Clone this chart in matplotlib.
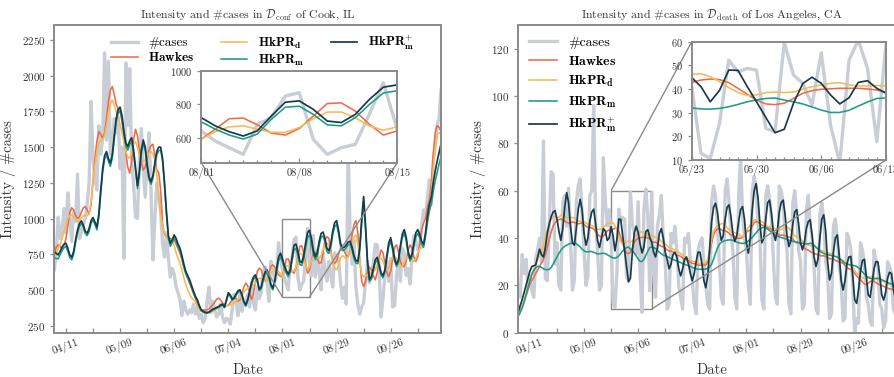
import numpy as np
import pandas as pd
import matplotlib
matplotlib.use('Agg')
import matplotlib.pyplot as plt
import matplotlib.dates as mdates
from mpl_toolkits.axes_grid1.inset_locator import mark_inset

plt.rcParams.update({
    'font.family': ['cmr10', 'DejaVu Serif'],
    'mathtext.fontset': 'cm',
    'axes.formatter.use_mathtext': True,
    'axes.unicode_minus': False,
})

# ---------------- data ----------------
start_date = '2020-04-05'
n_days = 201
dates = pd.date_range(start_date, periods=n_days, freq='D')

labels = [r'#cases', r'$\mathbf{Hawkes}$', r'$\mathbf{HkPR}_{\mathbf{d}}$',
          r'$\mathbf{HkPR}_{\mathbf{m}}$', r'$\mathbf{HkPR}^{+}_{\mathbf{m}}$']

# Cook, IL (confirmed)
cook_cases = [
    640, 760, 1010, 860, 920, 1070, 900, 1180, 1000, 840,
    1050, 980, 1310, 860, 900, 960, 1000, 1100, 1250, 1820,
    1420, 1280, 1200, 1650, 1450, 1560, 2160, 1550, 2100, 1450,
    1520, 1700, 1600, 1710, 1350, 1500, 720, 2090, 1650, 2050,
    1400, 1240, 1010, 1000, 1420, 1630, 1350, 1150, 1400, 1600,
    1200, 710, 1000, 1250, 1150, 1050, 820, 730, 900, 720,
    590, 650, 610, 520, 480, 430, 320, 420, 360, 330,
    360, 340, 400, 330, 380, 300, 330, 270, 300, 420,
    520, 340, 420, 360, 310, 330, 400, 310, 270, 300,
    290, 260, 360, 470, 420, 320, 480, 350, 430, 390,
    470, 380, 550, 410, 360, 520, 440, 480, 630, 660,
    560, 420, 700, 650, 560, 620, 830, 720, 640, 580,
    540, 500, 680, 720, 850, 870, 590, 500, 540, 560,
    740, 930, 650, 600, 880, 590, 780, 620, 500, 760,
    640, 560, 700, 600, 520, 760, 710, 720, 560, 440,
    520, 400, 1480, 900, 680, 850, 520, 400, 330, 380,
    410, 560, 700, 550, 600, 690, 820, 815, 650, 310,
    440, 600, 700, 560, 720, 380, 390, 600, 700, 560,
    790, 760, 600, 650, 540, 720, 880, 850, 780, 800,
    950, 1060, 1000, 1150, 1270, 1100, 1400, 1500, 1650, 1700,
    1900]
cook_hawkes = [
    760, 800, 815, 805, 790, 810, 860, 950, 1040, 1075,
    1060, 1020, 1000, 1010, 1045, 1075, 1084, 1060, 1030, 1100,
    1260, 1420, 1540, 1608, 1590, 1560, 1600, 1700, 1820, 1900,
    1924, 1870, 1800, 1770, 1750, 1680, 1585, 1460, 1360, 1317,
    1400, 1550, 1625, 1580, 1480, 1390, 1340, 1360, 1420, 1480,
    1510, 1520, 1440, 1340, 1320, 1200, 960, 890, 875, 865,
    860, 855, 850, 820, 790, 757, 710, 660, 617, 580,
    545, 510, 477, 440, 405, 372, 362, 358, 358, 360,
    368, 380, 395, 415, 435, 442, 430, 410, 395, 388,
    392, 410, 430, 448, 440, 420, 430, 470, 520, 547,
    530, 480, 432, 470, 560, 630, 652, 640, 600, 560,
    570, 620, 665, 675, 660, 630, 605, 595, 592, 651,
    714, 718, 677, 628, 616, 655, 730, 805, 809, 760,
    681, 616, 641, 700, 760, 765, 720, 687, 690, 760,
    850, 873, 860, 780, 700, 687, 700, 750, 790, 792,
    770, 740, 733, 780, 880, 960, 985, 900, 720, 560,
    523, 560, 630, 660, 640, 600, 570, 620, 720, 780,
    760, 690, 620, 593, 630, 720, 800, 815, 770, 700,
    665, 663, 700, 780, 815, 790, 730, 700, 730, 820,
    920, 967, 1000, 1080, 1130, 1250, 1450, 1600, 1650, 1640,
    1610]
cook_hkpr_d = [
    720, 760, 790, 820, 860, 910, 955, 1000, 1020, 1025,
    1010, 990, 978, 985, 1000, 1020, 1025, 1020, 1030, 1120,
    1260, 1375, 1470, 1530, 1545, 1550, 1580, 1650, 1740, 1800,
    1830, 1790, 1749, 1700, 1660, 1600, 1539, 1470, 1430, 1422,
    1460, 1520, 1539, 1500, 1440, 1410, 1399, 1410, 1440, 1460,
    1469, 1450, 1410, 1300, 1150, 1020, 950, 900, 880, 860,
    845, 839, 810, 760, 722, 687, 640, 585, 535, 500,
    470, 445, 430, 410, 385, 362, 350, 343, 341, 341,
    343, 346, 348, 355, 365, 380, 392, 395, 392, 388,
    390, 395, 400, 410, 420, 432, 442, 460, 485, 500,
    510, 520, 530, 535, 550, 570, 582, 578, 565, 560,
    575, 600, 620, 628, 640, 640, 630, 610, 592, 636,
    665, 671, 651, 632, 632, 661, 714, 754, 754, 720,
    671, 645, 665, 700, 735, 740, 725, 722, 740, 785,
    820, 827, 815, 760, 690, 650, 640, 670, 720, 740,
    730, 720, 730, 770, 830, 870, 885, 820, 700, 610,
    593, 598, 605, 615, 625, 628, 640, 680, 715, 722,
    700, 665, 640, 655, 700, 730, 733, 720, 690, 665,
    665, 690, 725, 733, 725, 710, 700, 720, 760, 790,
    792, 810, 880, 967, 1050, 1180, 1350, 1500, 1580, 1600,
    1600]
cook_hkpr_m = [
    724, 720, 718, 745, 775, 795, 805, 770, 725, 710,
    750, 830, 900, 945, 965, 940, 895, 880, 910, 965,
    990, 960, 920, 1005, 1170, 1320, 1415, 1445, 1400, 1365,
    1425, 1555, 1675, 1740, 1755, 1700, 1590, 1505, 1480, 1520,
    1540, 1455, 1335, 1210, 1305, 1455, 1525, 1480, 1360, 1270,
    1240, 1280, 1370, 1445, 1475, 1480, 1400, 1230, 1030, 860,
    805, 830, 865, 840, 800, 772, 722, 662, 612, 584,
    555, 516, 478, 445, 420, 382, 354, 345, 338, 337,
    341, 350, 360, 365, 372, 377, 388, 393, 375, 420,
    468, 455, 428, 437, 460, 484, 490, 462, 413, 388,
    420, 478, 535, 575, 590, 557, 495, 508, 565, 608,
    622, 585, 528, 500, 545, 630, 705, 730, 695, 651,
    616, 592, 622, 710, 783, 789, 740, 677, 671, 720,
    799, 868, 882, 830, 752, 712, 738, 815, 868, 878,
    835, 768, 755, 798, 885, 942, 958, 895, 808, 775,
    780, 795, 815, 820, 780, 722, 688, 683, 775, 965,
    1110, 915, 680, 560, 575, 632, 690, 708, 662, 604,
    585, 624, 720, 806, 840, 778, 702, 663, 692, 788,
    865, 895, 845, 750, 702, 730, 806, 873, 895, 865,
    818, 798, 870, 980, 1055, 1100, 1190, 1260, 1320, 1380,
    1430]
cook_hkpr_mp = [
    768, 755, 745, 770, 800, 820, 827, 790, 745, 729,
    770, 850, 920, 965, 983, 955, 910, 897, 930, 985,
    1007, 975, 939, 1030, 1200, 1350, 1440, 1469, 1420, 1389,
    1450, 1580, 1700, 1765, 1780, 1720, 1610, 1530, 1503, 1545,
    1565, 1480, 1360, 1230, 1330, 1480, 1550, 1500, 1380, 1290,
    1258, 1300, 1390, 1470, 1500, 1500, 1420, 1250, 1050, 880,
    827, 850, 885, 860, 820, 792, 740, 680, 630, 600,
    570, 530, 490, 455, 430, 390, 360, 350, 343, 341,
    345, 355, 365, 370, 378, 383, 395, 400, 380, 430,
    480, 465, 435, 445, 470, 495, 500, 470, 420, 395,
    430, 490, 550, 590, 605, 570, 505, 520, 580, 625,
    640, 600, 540, 512, 560, 650, 730, 757, 720, 671,
    636, 610, 641, 730, 813, 821, 770, 700, 691, 740,
    829, 903, 917, 860, 775, 733, 760, 840, 895, 905,
    860, 790, 775, 820, 910, 970, 985, 920, 830, 795,
    800, 815, 835, 840, 800, 740, 705, 700, 800, 1000,
    1154, 950, 700, 575, 590, 650, 710, 728, 680, 620,
    600, 640, 740, 830, 865, 800, 720, 680, 710, 810,
    890, 922, 870, 770, 720, 750, 830, 900, 922, 890,
    840, 820, 900, 1020, 1100, 1150, 1250, 1330, 1400, 1460,
    1520]

# Los Angeles, CA (death)
la_cases = [
    20, 15, 33, 25, 31, 19, 24,
    18, 15, 31, 35, 40, 30, 81,
    23, 22, 45, 68, 67, 29, 38,
    20, 18, 55, 58, 45, 61, 40,
    18, 22, 55, 62, 65, 50, 35,
    20, 24, 58, 60, 96, 45, 35,
    18, 20, 74, 56, 45, 52, 41,
    12.8, 10.7, 25.5, 52.2, 47.3, 48.7, 48,
    23.4, 22, 59.6, 45.9, 42.4, 33.2, 55.3,
    24.8, 8.6, 52.2, 60.7, 48.7, 17.7, 59.3,
    25, 15, 45, 50, 58, 40, 30,
    10, 12, 42, 38, 45, 35, 20,
    15, 10, 40, 38, 42, 30, 22,
    12, 8, 35, 38, 40, 30, 20,
    12, 10, 55, 62, 58, 45, 30,
    15, 12, 60, 65, 55, 42, 35,
    15, 10, 58, 74, 50, 40, 35,
    20, 12, 60, 66, 62, 45, 40,
    14, 10, 58, 62, 56, 48, 30,
    15, 12, 62, 60, 55, 40, 35,
    12, 8, 55, 60, 50, 35, 30,
    10, 12, 52, 58, 45, 40, 28,
    10, 8, 50, 55, 48, 30, 25,
    6, 8, 45, 48, 40, 28, 22,
    5, 6, 42, 40, 35, 20, 0,
    6, 4, 38, 35, 30, 15, 12,
    5, 3, 35, 30, 28, 12, 10,
    2, 5, 30, 28, 25, 10, 8,
    6, 4, 28, 26, 22]
la_hawkes = [
    8, 9.5, 11, 13, 15.5, 18, 20.5, 22, 23.5, 25,
    26.5, 28, 29.5, 31, 33, 36, 39.5, 42.5, 45, 46.5,
    47.3, 47.8, 48, 47.8, 47.2, 46.6, 46.3, 46.5, 46.8, 46.6,
    46.2, 46, 46.2, 46.3, 45.8, 45, 44.5, 44.4, 44.3, 43.8,
    42.8, 41.6, 40.8, 40.5, 40.8, 41.8, 43, 43.5, 42.8, 43.8,
    44.2, 44, 42.7, 40.3, 37.8, 35.3, 33.7, 33.4, 34, 36,
    38.2, 39.3, 39.9, 40.1, 40.3, 40.3, 40.3, 40, 39.6, 38.6,
    38.2, 38.3, 37.8, 37, 36.5, 36.3, 35.8, 35, 34.5, 34.5,
    34.2, 33.5, 32.8, 32.6, 32.3, 31.6, 31, 30.8, 30.5, 29.8,
    29.3, 29.2, 29, 28.6, 28.5, 28.6, 28.6, 28.6, 30, 33.6,
    38, 41.3, 43, 43.8, 44.1, 43.5, 43, 43, 42.7, 42,
    41.3, 41, 40.6, 40, 39.9, 39.9, 40.3, 41.3, 42.5, 43,
    43.4, 45, 46.5, 47, 46.8, 46, 45.5, 45.2, 44.8, 44.3,
    44.1, 43.6, 42.8, 42.3, 41.8, 41.3, 41.2, 41.3, 40.9, 40.5,
    40.4, 40.2, 39.4, 38.6, 38, 37.8, 37.4, 36.6, 35.8, 35.2,
    34.9, 34.3, 33.8, 33.5, 33.2, 32.9, 32.6, 32.5, 32.5, 32.3,
    31.8, 31.3, 31.2, 31, 30.6, 30.2, 29.9, 29.7, 29.3, 28.5,
    27.5, 27, 26.8, 26.2, 25.1, 24, 23.2, 22.5, 21.5, 20.6,
    20.3, 20.8, 21.6, 22, 21.8, 21.2, 20.6, 20.3, 20, 19.6,
    19.2, 18.8, 18.6, 18.4, 18, 17.7, 17.4, 17.1, 16.8, 16.5,
    16.2]
la_hkpr_d = [
    7.5, 9, 11, 13.5, 16.5, 20, 22.5, 25, 27, 29,
    31, 32.8, 34.3, 37, 40.5, 43.5, 46, 48, 49, 49.1,
    48.6, 48.8, 49.6, 50, 49.5, 48.8, 48.5, 48.6, 48.7, 48.4,
    47.8, 47.2, 47, 47.2, 47, 46.4, 45.8, 45.5, 45.3, 44.9,
    44.3, 43.8, 43.6, 43.8, 44.4, 45.3, 46, 46.3, 46.2, 46.5,
    45.2, 43.1, 40.6, 38.5, 37.3, 37.5, 38.5, 38.7, 38.5, 38.7,
    39.9, 41, 41.7, 42.4, 42.7, 41.8, 41.3, 41.3, 41.5, 41.3,
    40.8, 40.3, 40.2, 39.5, 38.5, 37.8, 37.5, 36.8, 36, 35.6,
    35.4, 35, 34.5, 34, 33.4, 32.8, 32.2, 31.6, 31.2, 30.8,
    30.3, 30, 29.8, 29.5, 29.3, 29.2, 29.3, 29.6, 31, 35,
    39.5, 42.7, 44.3, 45.2, 45.6, 46, 46.2, 45.4, 44.3, 43.5,
    43, 42.6, 42.2, 42, 41.6, 41, 40.6, 41.2, 42.8, 44.5,
    45.5, 46.8, 47.6, 47.7, 47.4, 47.1, 47, 46.3, 45.6, 45,
    44.8, 44.7, 44.3, 43.8, 43.5, 43.4, 43.6, 44, 44.4, 44.6,
    44.2, 43.1, 41.9, 41, 40.6, 40.3, 39.7, 38.8, 38, 37.4,
    37.1, 36.8, 36.5, 36.3, 35.9, 35.4, 35, 34.7, 34.4, 34,
    33.8, 33.6, 33.3, 32.8, 32.3, 31.8, 31.4, 31, 30.5, 29.9,
    29.3, 28.8, 28.4, 27.6, 26.3, 25.2, 24.4, 23.8, 23.3, 23,
    23, 23.2, 23.5, 23.7, 23.5, 22.9, 22.4, 22, 21.8, 21.6,
    21.2, 20.8, 20.4, 20.1, 19.8, 19.5, 19.2, 18.9, 18.6, 18.3,
    18]
la_hkpr_m = [
    7, 8.5, 10.5, 13, 16, 19, 22, 24.5, 26.3, 27.5,
    28, 28, 27.6, 27, 26.7, 26.6, 26.8, 27.5, 29, 30.5,
    32, 33.5, 34.8, 35.8, 36.5, 37, 37.4, 37.7, 37.8, 37.8,
    37.6, 37, 36.2, 35.3, 34.6, 34.2, 34.2, 34.3, 34.3, 34,
    33.6, 33.3, 33.3, 33.5, 33.6, 33.4, 33, 32.5, 32, 31.6,
    31.5, 31.8, 32.5, 33.5, 34.6, 35.4, 36, 36.2, 35.3, 34.6,
    33.7, 32.4, 31.1, 30.1, 30.1, 31, 32.8, 34.5, 36, 36.2,
    36, 35.5, 34.8, 34, 33.3, 32.8, 32.5, 32.2, 31.8, 31.4,
    31, 30.6, 30.3, 30, 29.6, 29.2, 28.9, 28.6, 28.3, 28,
    27.6, 27.3, 27, 26.8, 26.8, 26.8, 26.8, 26.9, 27.2, 27.8,
    29, 31, 33.5, 35.8, 37.3, 38.2, 38.6, 38.9, 39.1, 39.2,
    39.2, 39, 38.7, 38.3, 38, 37.8, 37.7, 37.8, 38.2, 38.8,
    39.5, 40.3, 41.2, 42.2, 43.2, 44, 44.4, 44.5, 44.3, 43.8,
    43.2, 42.5, 41.8, 41.2, 40.8, 40.5, 40.2, 40, 39.7, 39.4,
    39.1, 38.8, 38.6, 38.4, 38.3, 38.2, 38, 37.8, 37.6, 37.5,
    37.6, 37.8, 37.6, 37, 36.2, 35.3, 34.5, 33.9, 33.5, 33.2,
    33, 32.8, 32.6, 32.4, 32.2, 32, 31.5, 30.8, 30, 29.4,
    29, 28.8, 28.6, 28.5, 28.3, 28, 27.4, 26.6, 25.7, 24.8,
    24, 23.4, 23, 22.8, 22.8, 22.9, 23, 22.8, 22.4, 22,
    21.6, 21.2, 20.9, 20.6, 20.4, 20.2, 20, 19.8, 19.6, 19.4,
    19.2]
la_hkpr_mp = [
    8.9, 11.5, 14, 17, 20, 23, 26, 28, 28.3, 28.6,
    32, 35.3, 33, 32, 36, 42, 46, 49, 51, 51.6,
    48, 43, 39, 44, 53, 59.2, 55, 45, 38, 37,
    44, 52, 56.4, 52, 42, 37, 40, 47, 51, 52.2,
    46, 39, 36, 40, 44, 43, 39, 40, 44.8, 41,
    34.6, 39.4, 48, 47.9, 41, 34.6, 28, 21.5, 23, 34,
    42.3, 45, 42.4, 37.5, 33.7, 36.3, 42.8, 43.5, 40.3, 38.2,
    34, 32, 36, 42, 44, 40, 34, 31, 27, 29,
    33, 34, 32, 27, 24, 27, 31, 32, 29, 25,
    22, 25, 30, 34, 34, 29, 22, 19, 24, 36,
    47, 53, 54.7, 51, 44, 39, 41, 48, 53, 54,
    49, 42, 38.5, 41, 47, 52, 53.3, 48, 38, 33.6,
    40, 52, 60, 63, 57, 46, 38, 40, 48, 55,
    56, 50, 42, 39, 43, 51, 55, 56, 50, 41,
    36.4, 39, 46, 51, 52, 46, 38, 35, 38, 44,
    47, 47.7, 41, 32, 28, 31, 40, 48, 49.8, 43,
    30, 22.3, 25, 34, 40, 41.3, 33, 22, 18, 22,
    29, 32, 32.2, 24, 14, 12.4, 18, 26, 30.5, 31,
    24, 16, 15, 21, 27, 30, 30, 24, 16, 13.8,
    17, 23, 25.5, 25, 19, 14, 14, 18, 23, 24,
    22]

major_ticks = ['2020-04-11', '2020-05-09', '2020-06-06', '2020-07-04',
               '2020-08-01', '2020-08-29', '2020-09-26']
minor_ticks = ['2020-04-25', '2020-05-23', '2020-06-20', '2020-07-18',
               '2020-08-15', '2020-09-12', '2020-10-10']

cook_yticks = [250, 500, 750, 1000, 1250, 1500, 1750, 2000, 2250]
la_yticks = [0, 20, 40, 60, 80, 100, 120]

cook_zoom = ('2020-08-01', '2020-08-15')
cook_zoom_ticks = ['2020-08-01', '2020-08-08', '2020-08-15']
cook_zoom_yticks = [600, 800, 1000]
la_zoom = ('2020-05-23', '2020-06-13')
la_zoom_ticks = ['2020-05-23', '2020-05-30', '2020-06-06', '2020-06-13']
la_zoom_yticks = [10, 20, 30, 40, 50, 60]

# ---------------- style ----------------
C_CASES = '#c9ced6'
C_HAWKES = '#ef6a4a'
C_HKPRD = '#f2bb55'
C_HKPRM = '#1c9c86'
C_HKPRMP = '#183b4c'
SPINE = '#8a8a8a'
TXT = '#333333'

colors = [C_CASES, C_HAWKES, C_HKPRD, C_HKPRM, C_HKPRMP]
widths = [2.4, 1.15, 1.15, 1.15, 1.25]


def plot_all(ax, series):
    lines = []
    for s, c, w, lab in zip(series, colors, widths, labels):
        ln, = ax.plot(dates, s, color=c, lw=w, label=lab)
        lines.append(ln)
    return lines


def style_axes(ax, fs=8):
    for sp in ax.spines.values():
        sp.set_color(SPINE)
        sp.set_linewidth(1.4)
    ax.tick_params(axis='x', which='both', direction='in', length=3.5,
                   width=0.9, color=SPINE, labelsize=fs, labelcolor=TXT)
    ax.tick_params(axis='y', which='both', direction='out', length=3,
                   width=0.9, color=SPINE, labelsize=fs, labelcolor=TXT)
    ax.xaxis.set_major_formatter(mdates.DateFormatter('%m/%d'))


fig = plt.figure(figsize=(8.95, 3.77), dpi=100)
axL = fig.add_axes([0.0607, 0.1175, 0.432, 0.816])
axR = fig.add_axes([0.5791, 0.1175, 0.432, 0.816])

cook = [cook_cases, cook_hawkes, cook_hkpr_d, cook_hkpr_m, cook_hkpr_mp]
la = [la_cases, la_hawkes, la_hkpr_d, la_hkpr_m, la_hkpr_mp]

for ax, data, yt, ylim, title in [
        (axL, cook, cook_yticks, (200, 2355),
         r'Intensity and #cases in $\mathcal{D}_{\mathrm{conf}}$ of Cook, IL'),
        (axR, la, la_yticks, (0, 130),
         r'Intensity and #cases in $\mathcal{D}_{\mathrm{death}}$ of Los Angeles, CA')]:
    plot_all(ax, data)
    style_axes(ax)
    ax.set_xlim(dates[0], dates[-1])
    ax.set_ylim(*ylim)
    ax.set_yticks(yt)
    ax.set_xticks(pd.to_datetime(major_ticks))
    ax.set_xticks(pd.to_datetime(minor_ticks), minor=True)
    plt.setp(ax.get_xticklabels(), rotation=20)
    ax.set_xlabel('Date', fontsize=10.5, color=TXT)
    ax.set_ylabel('Intensity / #cases', fontsize=10.5, color=TXT)
    ax.set_title(title, fontsize=8.5, color=TXT, pad=5)

axL.legend(loc='upper left', bbox_to_anchor=(0.125, 1.0), ncol=3,
           frameon=False, fontsize=9.5, columnspacing=2.0,
           handlelength=2.0, labelspacing=0.15, borderpad=0.15)
axR.legend(loc='upper left', bbox_to_anchor=(0.0, 1.0), ncol=1,
           frameon=False, fontsize=10, handlelength=2.0,
           labelspacing=0.42, borderpad=0.3)

# ---------------- insets ----------------
insL = fig.add_axes([0.2249, 0.5684, 0.219, 0.2432])
insR = fig.add_axes([0.7729, 0.5756, 0.2171, 0.3138])

for ins, parent, data, xr, xt, yt, ylim, locs in [
        (insL, axL, cook, cook_zoom, cook_zoom_ticks, cook_zoom_yticks, (450, 1000), (3, 4)),
        (insR, axR, la, la_zoom, la_zoom_ticks, la_zoom_yticks, (10, 60), (2, 4))]:
    plot_all(ins, data)
    style_axes(ins, fs=7.5)
    ins.set_facecolor('white')
    ins.set_xlim(pd.Timestamp(xr[0]), pd.Timestamp(xr[1]))
    ins.set_ylim(*ylim)
    ins.set_yticks(yt)
    ins.set_xticks(pd.to_datetime(xt))
    ins.xaxis.set_minor_locator(mdates.DayLocator())
    ins.tick_params(axis='x', which='minor', length=2.5)
    mark_inset(parent, ins, loc1=locs[0], loc2=locs[1], fc='none',
               ec='#8a8a8a', lw=1.0)

fig.savefig('out.png', dpi=100)
